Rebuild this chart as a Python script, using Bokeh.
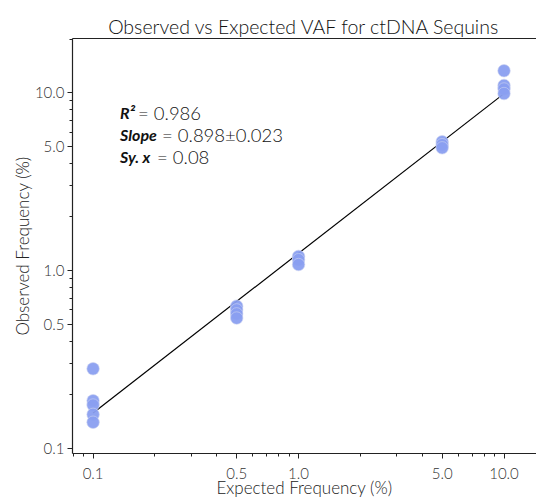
from bokeh.plotting import figure
from bokeh.models import Label, LogAxis, FixedTicker, Range1d
from bokeh.embed import file_html
from bokeh.resources import INLINE

# ---- data ----
expected_pct = [0.1, 0.1, 0.1, 0.1, 0.1,
                0.5, 0.5, 0.5, 0.5,
                1.0, 1.0, 1.0,
                5.0, 5.0, 5.0,
                10.0, 10.0, 10.0, 10.0]
observed_pct = [0.28, 0.185, 0.175, 0.155, 0.14,
                0.63, 0.60, 0.57, 0.54,
                1.20, 1.15, 1.08,
                5.3, 5.1, 4.9,
                13.3, 11.0, 10.5, 9.9]
fit_x = [0.1, 10.0]
fit_y = [0.158, 9.89]
major_ticks = [0.1, 0.5, 1.0, 5.0, 10.0]
major_tick_labels = ["0.1", "0.5", "1.0", "5.0", "10.0"]
minor_ticks = [0.08, 0.09, 0.2, 0.3, 0.4, 0.6, 0.7, 0.8, 0.9,
               2, 3, 4, 6, 7, 8, 9, 20]
stat_names = ["R\u00b2", "Slope", "Sy. x"]
stat_values = ["= 0.986", "= 0.898\u00b10.023", "= 0.08"]

FONT = "Lato Light"
BOLD_FONT = "Lato"

p = figure(width=536, height=500, x_axis_type="log", y_axis_type="log",
           x_range=Range1d(0.0794, 14.39), y_range=Range1d(0.0934, 20.2),
           output_backend="svg", toolbar_location=None,
           min_border_left=72, min_border_right=0, min_border_top=38,
           min_border_bottom=44)

p.title.text = "Observed vs Expected VAF for ctDNA Sequins"
p.title.align = "center"
p.title.text_font = FONT
p.title.text_font_size = "19.5px"
p.title.text_font_style = "normal"
p.title.text_color = "#111111"
p.title.standoff = 2

p.grid.visible = False
p.outline_line_color = None
p.background_fill_color = "white"
p.border_fill_color = "white"

labels_map = {t: s for t, s in zip(major_ticks, major_tick_labels)}
for ax in (p.xaxis[0], p.yaxis[0]):
    ax.ticker = FixedTicker(ticks=major_ticks, minor_ticks=minor_ticks)
    ax.major_label_overrides = labels_map
    ax.axis_line_color = "#222222"
    ax.axis_line_width = 1.2
    ax.major_tick_line_color = "#222222"
    ax.minor_tick_line_color = "#222222"
    ax.major_tick_in = 0
    ax.major_tick_out = 5
    ax.minor_tick_in = 0
    ax.minor_tick_out = 3
    ax.major_label_text_font = FONT
    ax.major_label_text_font_size = "15px"
    ax.major_label_text_color = "#333333"
    ax.axis_label_text_font = FONT
    ax.axis_label_text_font_size = "17px"
    ax.axis_label_text_font_style = "normal"
    ax.axis_label_text_color = "#222222"

p.xaxis.axis_label = "Expected Frequency (%)"
p.yaxis.axis_label = "Observed Frequency (%)"
p.xaxis.major_label_standoff = 9
p.xaxis.axis_label_standoff = -5
p.yaxis.major_label_standoff = 3
p.yaxis.axis_label_standoff = -1

top = LogAxis(ticker=FixedTicker(ticks=[]), axis_line_color="#222222",
              axis_line_width=1.2, major_tick_out=0, minor_tick_out=0,
              major_label_text_font_size="0px", major_label_standoff=0)
p.add_layout(top, "above")

p.line(fit_x, fit_y, line_color="black", line_width=1.2)
p.scatter(expected_pct, observed_pct, marker="circle", size=12.5,
          fill_color="#8a9ff0", fill_alpha=0.95,
          line_color="#cdd4f0", line_width=0.6)

rows = [-20, -42, -64]
name_dx = 27
value_dx = [45, 69, 64]
for name, val, dy, vdx in zip(stat_names, stat_values, rows, value_dx):
    p.add_layout(Label(x=0.1, y=10.0, x_offset=name_dx, y_offset=dy, text=name,
                       text_font=BOLD_FONT, text_font_style="bold italic",
                       text_font_size="16px", text_color="#111111",
                       text_baseline="alphabetic"))
    p.add_layout(Label(x=0.1, y=10.0, x_offset=vdx, y_offset=dy, text=val,
                       text_font=FONT, text_font_size="18.5px",
                       text_color="#111111", text_baseline="alphabetic"))

open("out.html", "w").write(file_html(p, INLINE))
